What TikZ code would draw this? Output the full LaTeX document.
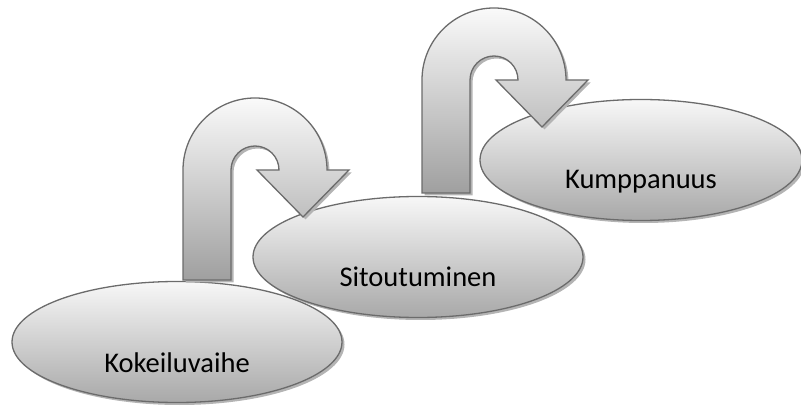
\documentclass[tikz,border=0pt]{standalone}
\usepackage{fontspec}
\setmainfont{Carlito}
\usetikzlibrary{shapes.geometric,shadows,calc}
\definecolor{edge}{HTML}{6B6B6B}
\definecolor{shadowgray}{HTML}{B4B4B4}
\tikzset{
  blob/.style={ellipse, draw=edge, line width=1.3pt, minimum width=330pt, minimum height=121pt,
    inner sep=0pt, top color=gray!6, bottom color=gray!68,
    drop shadow={shadow xshift=2.5pt, shadow yshift=-2.5pt, fill=shadowgray, opacity=1}},
  lbl/.style={font=\fontsize{28.5}{30}\selectfont, text=black},
  uturn/.style={draw=edge, line width=1.3pt, line join=miter, top color=gray!4, bottom color=gray!75,
    drop shadow={shadow xshift=2.5pt, shadow yshift=-2.5pt, fill=shadowgray, opacity=1}},
}
\begin{document}
\begin{tikzpicture}[x=1pt,y=1pt]
\useasboundingbox (0,0) rectangle (801,410);
% ellipses, back to front
\node[blob, minimum width=322pt] (kump) at (641,250) {};
\node[lbl] (kumpt) at ($(kump.center)+(0,-22)$) {Kumppanuus};
\node[blob] (sito) at (418,153) {};
\node[lbl] (sitot) at ($(sito.center)+(0,-20)$) {Sitoutuminen};
\node[blob] (koke) at (177,68) {};
\node[lbl] (koket) at ($(koke.center)+(0,-21)$) {Kokeiluvaihe};
% u-turn arrows
\path[uturn] (183,130) -- (183,240) arc[start angle=180,end angle=0,radius=72]
  -- (349,240) -- (303,193) -- (257,240) -- (279,240)
  arc[start angle=0,end angle=180,radius=24] -- (231,130) -- cycle;
\path[uturn] (422,217) -- (422,330) arc[start angle=180,end angle=0,radius=72]
  -- (588,330) -- (542,283) -- (496,330) -- (518,330)
  arc[start angle=0,end angle=180,radius=24] -- (470,217) -- cycle;
\end{tikzpicture}
\end{document}
